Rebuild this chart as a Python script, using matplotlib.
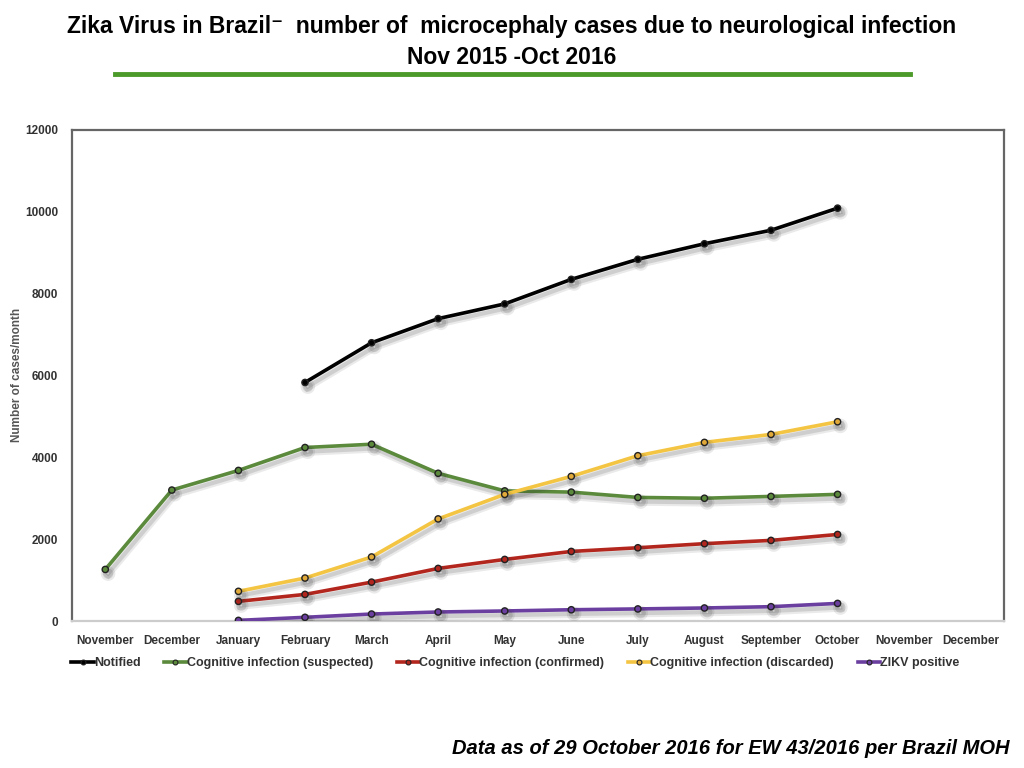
import matplotlib
matplotlib.use("Agg")
import matplotlib.pyplot as plt
import matplotlib.patheffects as pe
from matplotlib.lines import Line2D
import numpy as np

plt.rcParams['font.family'] = ['Liberation Sans', 'DejaVu Sans']

months = ['November', 'December', 'January', 'February', 'March', 'April', 'May',
          'June', 'July', 'August', 'September', 'October', 'November', 'December']

# month index of each series point (0 = Nov 2015)
notified_x = [3, 4, 5, 6, 7, 8, 9, 10, 11]
notified = [5830, 6800, 7390, 7750, 8350, 8840, 9220, 9550, 10090]

suspected_x = [0, 1, 2, 3, 4, 5, 6, 7, 8, 9, 10, 11]
suspected = [1260, 3200, 3680, 4240, 4320, 3610, 3180, 3150, 3020, 3000, 3045, 3095]

confirmed_x = [2, 3, 4, 5, 6, 7, 8, 9, 10, 11]
confirmed = [480, 650, 950, 1285, 1505, 1700, 1790, 1890, 1970, 2115]

discarded_x = [2, 3, 4, 5, 6, 7, 8, 9, 10, 11]
discarded = [725, 1050, 1565, 2495, 3095, 3535, 4040, 4365, 4560, 4870]

zikv_x = [2, 3, 4, 5, 6, 7, 8, 9, 10, 11]
zikv = [15, 90, 170, 220, 245, 275, 295, 318, 350, 430]

series = [
    ('Notified', notified_x, notified, '#000000', 'black'),
    ('Cognitive infection (suspected)', suspected_x, suspected, '#5b8a3c', '#5b8a3c'),
    ('Cognitive infection (confirmed)', confirmed_x, confirmed, '#b3261e', '#b3261e'),
    ('Cognitive infection (discarded)', discarded_x, discarded, '#f4c542', '#e0a93a'),
    ('ZIKV positive', zikv_x, zikv, '#6b3fa0', '#6b3fa0'),
]

fig = plt.figure(figsize=(10.24, 7.68), dpi=100)
ax = fig.add_axes([72 / 1024, 1 - 621 / 768, 932 / 1024, 491 / 768])

shadow = [pe.SimpleLineShadow(offset=(2, -3), alpha=0.10, shadow_color='#333333', linewidth=6),
          pe.SimpleLineShadow(offset=(2, -3), alpha=0.15, shadow_color='#333333', linewidth=3),
          pe.Normal()]

handles = []
for name, xs, ys, col, face in series:
    ax.plot(xs, ys, color=col, lw=2.6, marker='o', ms=4.5,
            mfc=face, mec='#222222', mew=1.0, path_effects=shadow, zorder=3)
    handles.append(Line2D([], [], color=col, lw=2.6, marker='o', ms=3.5,
                          mfc=face, mec='#222222', mew=0.8, label=name))

ax.set_xlim(-0.5, 13.5)
ax.set_ylim(0, 12000)
ax.set_xticks(np.arange(len(months)))
ax.set_xticklabels(months)
ax.set_yticks(np.arange(0, 12001, 2000))
ax.tick_params(axis='both', length=0, colors='#333333')
ax.tick_params(axis='x', pad=10, labelsize=8.5)
ax.tick_params(axis='y', pad=10, labelsize=8.5)
for lab in ax.get_xticklabels() + ax.get_yticklabels():
    lab.set_fontweight('bold')

for side in ['left', 'top', 'right']:
    ax.spines[side].set_color('#666666')
    ax.spines[side].set_linewidth(1.6)
ax.spines['bottom'].set_color('#cccccc')
ax.spines['bottom'].set_linewidth(1.6)

fig.text(17 / 1024, 1 - 375 / 768, 'Number of cases/month', rotation=90,
         ha='center', va='center', fontsize=8.5, fontweight='bold', color='#555555')

leg = fig.legend(handles=handles, loc='center left', ncol=5, frameon=False,
                 bbox_to_anchor=(60 / 1024, 1 - 663 / 768), fontsize=9,
                 handlelength=1.8, handletextpad=0.0, columnspacing=1.9,
                 labelcolor='#333333')
for t in leg.get_texts():
    t.set_fontweight('bold')

fig.text(0.5, 1 - 27 / 768, 'Zika Virus in Brazil\u207b  number of  microcephaly cases due to neurological infection',
         ha='center', va='center', fontsize=16.5, fontweight='bold', color='black')
fig.text(0.5, 1 - 58 / 768, 'Nov 2015 -Oct 2016',
         ha='center', va='center', fontsize=16.5, fontweight='bold', color='black')
fig.add_artist(Line2D([115 / 1024, 910 / 1024], [1 - 74 / 768, 1 - 74 / 768],
                      color='#4c9a2a', lw=3.5, transform=fig.transFigure))

fig.text(1010 / 1024, 1 - 748 / 768, 'Data as of 29 October 2016 for EW 43/2016 per Brazil MOH',
         ha='right', va='center', fontsize=14.5, fontweight='bold', fontstyle='italic')

fig.savefig('out.png', dpi=100)
